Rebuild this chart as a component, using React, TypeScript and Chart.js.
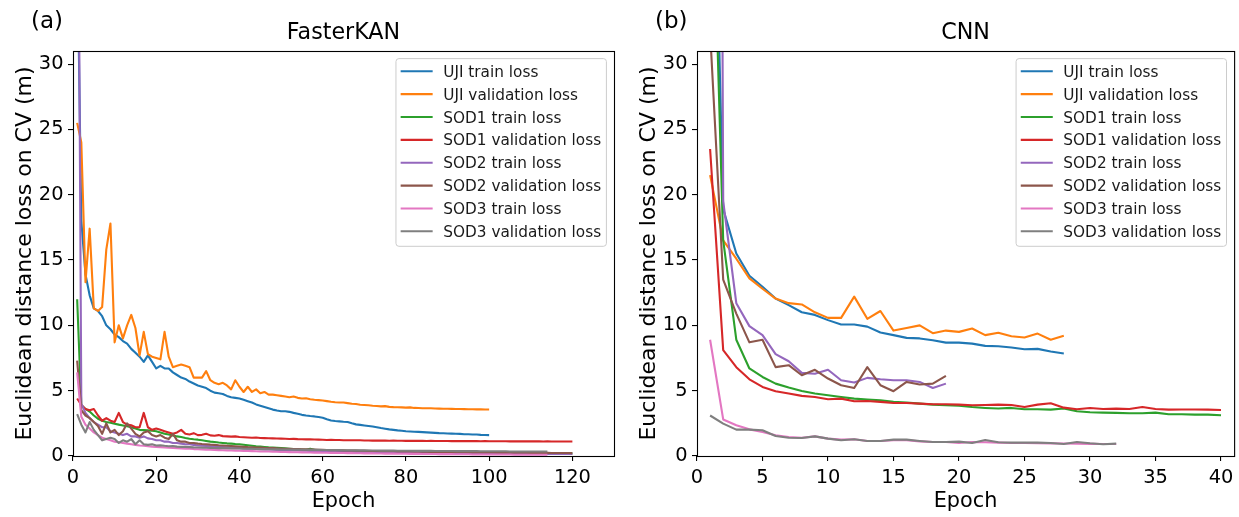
import React, { useEffect, useRef } from "react";
import { Chart, registerables } from "chart.js";

Chart.register(...registerables);

const FONT = "'DejaVu Sans', 'Liberation Sans', sans-serif";

const seriesNames = [
  "UJI train loss",
  "UJI validation loss",
  "SOD1 train loss",
  "SOD1 validation loss",
  "SOD2 train loss",
  "SOD2 validation loss",
  "SOD3 train loss",
  "SOD3 validation loss",
];
const seriesColors = [
  "#1f77b4",
  "#ff7f0e",
  "#2ca02c",
  "#d62728",
  "#9467bd",
  "#8c564b",
  "#e377c2",
  "#7f7f7f",
];

const yTicks = [0, 5, 10, 15, 20, 25, 30];
const kanXTicks = [0, 20, 40, 60, 80, 100, 120];
const cnnXTicks = [0, 5, 10, 15, 20, 25, 30, 35, 40];

// ---------- FasterKAN (epoch = index + 1) ----------
const kanUjiTrain = [
  40, 18, 13.9, 12.3, 11.3, 11.1, 10.7, 10.0, 9.7, 9.3,
  9.1, 8.8, 8.6, 8.2, 7.9, 7.6, 7.2, 7.7, 7.2, 6.7,
  6.9, 6.7, 6.7, 6.4, 6.2, 6.0, 5.9, 5.7, 5.55, 5.4,
  5.3, 5.2, 5.0, 4.85, 4.8, 4.75, 4.6, 4.5, 4.45, 4.4,
  4.3, 4.2, 4.1, 3.95, 3.85, 3.75, 3.65, 3.55, 3.48, 3.42,
  3.42, 3.38, 3.3, 3.23, 3.15, 3.1, 3.06, 3.03, 2.98, 2.93,
  2.82, 2.72, 2.68, 2.65, 2.62, 2.6, 2.5, 2.42, 2.38, 2.34,
  2.3, 2.26, 2.2, 2.14, 2.09, 2.04, 2.0, 1.96, 1.93, 1.9,
  1.88, 1.86, 1.85, 1.83, 1.81, 1.79, 1.77, 1.75, 1.74, 1.72,
  1.71, 1.7, 1.69, 1.67, 1.66, 1.65, 1.64, 1.62, 1.61, 1.6,
];
const kanUjiVal = [
  25.5, 24.0, 13.3, 17.4, 11.3, 11.1, 11.4, 15.8, 17.8, 8.7,
  10.0, 9.0, 10.0, 10.8, 9.8, 7.7, 9.5, 7.8, 7.6, 7.5,
  7.4, 9.5, 7.6, 6.8, 6.9, 7.0, 6.9, 6.8, 6.0, 6.0,
  6.0, 6.5, 5.8, 5.6, 5.5, 5.6, 5.4, 5.1, 5.8, 5.3,
  4.9, 5.3, 4.9, 5.1, 4.8, 4.9, 4.7, 4.7, 4.65, 4.6,
  4.55, 4.5, 4.55, 4.45, 4.4, 4.42, 4.35, 4.3, 4.28, 4.25,
  4.2, 4.15, 4.12, 4.1, 4.1, 4.05, 4.0, 3.98, 3.92, 3.9,
  3.88, 3.85, 3.83, 3.8, 3.82, 3.76, 3.74, 3.73, 3.72, 3.7,
  3.72, 3.68, 3.67, 3.66, 3.65, 3.65, 3.64, 3.63, 3.62, 3.62,
  3.61, 3.6, 3.6, 3.59, 3.58, 3.58, 3.57, 3.57, 3.56, 3.56,
];
const kanSod1Train = [
  12.0, 3.9, 3.6, 3.4, 3.1, 2.85, 2.7, 2.6, 2.55, 2.47,
  2.4, 2.34, 2.27, 2.2, 2.1, 2.0, 1.98, 1.96, 1.93, 1.9,
  1.8, 1.7, 1.64, 1.58, 1.5, 1.45, 1.38, 1.32, 1.28, 1.25,
  1.2, 1.15, 1.1, 1.07, 1.03, 1.0, 0.97, 0.95, 0.92, 0.9,
  0.86, 0.82, 0.78, 0.74, 0.72, 0.69, 0.66, 0.64, 0.62, 0.6,
  0.58, 0.56, 0.54, 0.52, 0.5, 0.48, 0.55, 0.47, 0.45, 0.43,
  0.42, 0.4, 0.39, 0.38, 0.37, 0.36, 0.35, 0.34, 0.33, 0.33,
  0.32, 0.32, 0.31, 0.31, 0.3, 0.3, 0.3, 0.29, 0.29, 0.29,
  0.28, 0.28, 0.28, 0.27, 0.27, 0.27, 0.27, 0.26, 0.26, 0.26,
  0.26, 0.25, 0.25, 0.25, 0.25, 0.25, 0.24, 0.24, 0.24, 0.24,
  0.24, 0.23, 0.23, 0.23, 0.23, 0.23, 0.22, 0.22, 0.22, 0.22,
  0.22, 0.22, 0.21, 0.21, 0.21, 0.21, 0.21, 0.21, 0.2, 0.2,
];
const kanSod1Val = [
  4.4, 3.9, 3.6, 3.5, 3.6, 3.1, 2.7, 2.9, 2.7, 2.6,
  3.3, 2.6, 2.4, 2.35, 2.2, 2.2, 3.3, 2.2, 2.0, 2.1,
  2.0, 1.9, 1.8, 1.7, 1.8, 2.0, 1.7, 1.65, 1.75, 1.6,
  1.62, 1.7, 1.58, 1.55, 1.6, 1.52, 1.5, 1.48, 1.5, 1.45,
  1.44, 1.42, 1.4, 1.42, 1.38, 1.37, 1.36, 1.35, 1.34, 1.33,
  1.32, 1.3, 1.31, 1.29, 1.28, 1.27, 1.27, 1.26, 1.25, 1.24,
  1.23, 1.24, 1.22, 1.22, 1.21, 1.21, 1.2, 1.2, 1.2, 1.19,
  1.19, 1.18, 1.19, 1.18, 1.18, 1.17, 1.18, 1.17, 1.17, 1.16,
  1.17, 1.16, 1.16, 1.16, 1.15, 1.16, 1.15, 1.15, 1.15, 1.15,
  1.14, 1.15, 1.14, 1.14, 1.14, 1.14, 1.14, 1.13, 1.14, 1.13,
  1.13, 1.13, 1.13, 1.13, 1.12, 1.13, 1.12, 1.12, 1.12, 1.12,
  1.12, 1.12, 1.11, 1.12, 1.11, 1.11, 1.11, 1.11, 1.11, 1.11,
];
const kanSod2Train = [
  60, 4.0, 3.3, 2.9, 2.6, 2.4, 2.2, 2.2, 1.9, 1.8,
  1.7, 1.6, 1.7, 1.5, 1.5, 1.4, 1.5, 1.35, 1.3, 1.2,
  1.2, 1.1, 1.1, 1.0, 1.0, 0.95, 0.9, 0.9, 0.85, 0.8,
  0.78, 0.76, 0.74, 0.72, 0.7, 0.68, 0.66, 0.64, 0.62, 0.6,
  0.58, 0.56, 0.55, 0.54, 0.52, 0.51, 0.5, 0.48, 0.47, 0.46,
  0.45, 0.44, 0.43, 0.42, 0.41, 0.4, 0.39, 0.38, 0.37, 0.36,
  0.35, 0.35, 0.34, 0.33, 0.32, 0.32, 0.31, 0.3, 0.3, 0.29,
  0.29, 0.28, 0.28, 0.27, 0.27, 0.26, 0.26, 0.25, 0.25, 0.25,
  0.24, 0.24, 0.24, 0.23, 0.23, 0.23, 0.22, 0.22, 0.22, 0.21,
  0.21, 0.21, 0.21, 0.2, 0.2, 0.2, 0.2, 0.19, 0.19, 0.19,
  0.19, 0.18, 0.18, 0.18, 0.18, 0.18, 0.17, 0.17, 0.17, 0.17,
  0.17, 0.16, 0.16, 0.16, 0.16, 0.16, 0.15, 0.15, 0.15, 0.15,
];
const kanSod2Val = [
  7.3, 3.5, 3.1, 2.9, 2.6, 2.3, 1.7, 2.5, 1.8, 2.0,
  1.6, 1.9, 2.5, 2.1, 1.7, 1.5, 1.8, 1.9, 1.6, 1.5,
  1.6, 1.4, 1.3, 1.7, 1.2, 1.1, 1.1, 1.0, 1.0, 0.95,
  0.92, 0.9, 0.87, 0.85, 0.82, 0.8, 0.78, 0.76, 0.74, 0.72,
  0.7, 0.68, 0.67, 0.65, 0.64, 0.62, 0.61, 0.6, 0.58, 0.57,
  0.56, 0.55, 0.54, 0.53, 0.52, 0.51, 0.5, 0.49, 0.48, 0.47,
  0.46, 0.45, 0.45, 0.44, 0.43, 0.42, 0.42, 0.41, 0.4, 0.4,
  0.39, 0.38, 0.38, 0.37, 0.37, 0.36, 0.36, 0.35, 0.35, 0.34,
  0.34, 0.33, 0.33, 0.32, 0.32, 0.31, 0.31, 0.31, 0.3, 0.3,
  0.3, 0.29, 0.29, 0.29, 0.28, 0.28, 0.28, 0.27, 0.27, 0.27,
  0.27, 0.26, 0.26, 0.26, 0.26, 0.25, 0.25, 0.25, 0.25, 0.24,
  0.24, 0.24, 0.24, 0.24, 0.23, 0.23, 0.23, 0.23, 0.23, 0.22,
];
const kanSod3Train = [
  6.4, 3.0, 2.4, 2.1, 1.8, 1.6, 1.4, 1.3, 1.2, 1.1,
  1.05, 1.0, 0.95, 0.9, 0.85, 0.8, 0.78, 0.75, 0.72, 0.7,
  0.68, 0.66, 0.64, 0.62, 0.6, 0.58, 0.56, 0.55, 0.53, 0.52,
  0.5, 0.49, 0.48, 0.46, 0.45, 0.44, 0.43, 0.42, 0.41, 0.4,
  0.39, 0.38, 0.37, 0.36, 0.35, 0.34, 0.34, 0.33, 0.32, 0.31,
  0.31, 0.3, 0.29, 0.29, 0.28, 0.27, 0.27, 0.26, 0.26, 0.25,
  0.25, 0.24, 0.24, 0.23, 0.23, 0.22, 0.22, 0.21, 0.21, 0.2,
  0.2, 0.2, 0.19, 0.19, 0.18, 0.18, 0.18, 0.17, 0.17, 0.17,
  0.16, 0.16, 0.16, 0.15, 0.15, 0.15, 0.15, 0.14, 0.14, 0.14,
  0.14, 0.13, 0.13, 0.13, 0.13, 0.12, 0.12, 0.12, 0.12, 0.12,
  0.11, 0.11, 0.11, 0.11, 0.11, 0.1, 0.1, 0.1, 0.1, 0.1,
  0.1, 0.1, 0.09, 0.09,
];
const kanSod3Val = [
  3.2, 2.4, 1.8, 2.6, 2.0, 1.6, 1.2, 1.3, 1.4, 1.3,
  1.0, 1.2, 1.1, 1.3, 0.9, 1.2, 0.9, 0.85, 0.9, 0.8,
  0.82, 0.78, 0.75, 0.76, 0.72, 0.7, 0.7, 0.68, 0.66, 0.65,
  0.64, 0.63, 0.62, 0.61, 0.6, 0.6, 0.59, 0.58, 0.57, 0.57,
  0.56, 0.55, 0.55, 0.54, 0.53, 0.53, 0.52, 0.52, 0.51, 0.5,
  0.5, 0.5, 0.49, 0.49, 0.48, 0.48, 0.47, 0.47, 0.47, 0.46,
  0.46, 0.45, 0.45, 0.45, 0.44, 0.44, 0.44, 0.43, 0.43, 0.43,
  0.42, 0.42, 0.42, 0.41, 0.41, 0.41, 0.41, 0.4, 0.4, 0.4,
  0.4, 0.39, 0.39, 0.39, 0.39, 0.39, 0.38, 0.38, 0.38, 0.38,
  0.38, 0.37, 0.37, 0.37, 0.37, 0.37, 0.37, 0.36, 0.36, 0.36,
  0.36, 0.36, 0.36, 0.36, 0.35, 0.35, 0.35, 0.35, 0.35, 0.35,
  0.35, 0.35, 0.35, 0.35,
];

// ---------- CNN (epoch = index + 1) ----------
const cnnUjiTrain = [
  60, 18.9, 15.5, 13.8, 12.95, 12.05, 11.55, 11.0, 10.8, 10.4,
  10.06, 10.06, 9.9, 9.45, 9.25, 9.04, 9.0, 8.86, 8.68, 8.68,
  8.6, 8.43, 8.4, 8.3, 8.17, 8.2, 8.0, 7.84,
];
const cnnUjiVal = [
  21.5, 16.5, 15.1, 13.6, 12.8, 12.05, 11.7, 11.6, 11.0, 10.57,
  10.57, 12.2, 10.5, 11.1, 9.6, 9.8, 10.0, 9.4, 9.6, 9.5,
  9.76, 9.25, 9.43, 9.17, 9.07, 9.37, 8.9, 9.2,
];
const cnnSod1Train = [
  51, 16.5, 8.9, 6.7, 6.05, 5.54, 5.24, 4.98, 4.78, 4.65,
  4.52, 4.39, 4.32, 4.27, 4.14, 4.09, 4.01, 3.93, 3.88, 3.85,
  3.75, 3.68, 3.63, 3.68, 3.58, 3.58, 3.55, 3.63, 3.42, 3.35,
  3.32, 3.3, 3.27, 3.27, 3.32, 3.19, 3.19, 3.17, 3.17, 3.12,
];
const cnnSod1Val = [
  23.5, 8.1, 6.8, 5.87, 5.29, 4.96, 4.78, 4.6, 4.52, 4.34,
  4.39, 4.19, 4.21, 4.14, 4.06, 4.06, 4.01, 3.96, 3.96, 3.93,
  3.88, 3.9, 3.93, 3.9, 3.75, 3.93, 4.04, 3.7, 3.58, 3.68,
  3.6, 3.63, 3.6, 3.75, 3.6, 3.55, 3.56, 3.56, 3.55, 3.52,
];
const cnnSod2Train = [
  250, 19.5, 11.7, 9.94, 9.25, 7.8, 7.25, 6.36, 6.3, 6.6,
  5.8, 5.62, 5.98, 5.87, 5.8, 5.8, 5.67, 5.2, 5.54,
];
const cnnSod2Val = [
  32.5, 13.5, 10.9, 8.7, 8.9, 6.8, 6.95, 6.18, 6.6, 5.93,
  5.42, 5.2, 6.8, 5.42, 4.96, 5.67, 5.47, 5.54, 6.13,
];
const cnnSod3Train = [
  8.9, 2.8, 2.35, 2.04, 1.84, 1.58, 1.46, 1.4, 1.5, 1.33,
  1.25, 1.28, 1.15, 1.15, 1.2, 1.2, 1.12, 1.07, 1.07, 1.0,
  1.07, 1.05, 1.02, 1.0, 1.0, 0.98, 0.97, 0.96, 0.95, 0.93,
  0.92, 0.92,
];
const cnnSod3Val = [
  3.1, 2.48, 2.02, 2.02, 1.97, 1.53, 1.4, 1.38, 1.5, 1.33,
  1.2, 1.28, 1.15, 1.15, 1.25, 1.25, 1.15, 1.07, 1.07, 1.1,
  1.0, 1.22, 1.05, 1.02, 1.02, 1.02, 1.0, 0.92, 1.07, 0.97,
  0.9, 0.95,
];

const kanSeries = [
  kanUjiTrain, kanUjiVal, kanSod1Train, kanSod1Val,
  kanSod2Train, kanSod2Val, kanSod3Train, kanSod3Val,
];
const cnnSeries = [
  cnnUjiTrain, cnnUjiVal, cnnSod1Train, cnnSod1Val,
  cnnSod2Train, cnnSod2Val, cnnSod3Train, cnnSod3Val,
];

const Y_LABEL = "Euclidean distance loss on CV (m)";
const X_LABEL = "Epoch";

const decorPlugin = {
  id: "decor",
  afterDraw(chart: any, _args: any, o: any) {
    const { ctx, chartArea: ca } = chart;
    ctx.save();
    // frame (all four spines)
    ctx.strokeStyle = "#000";
    ctx.lineWidth = 1.1;
    ctx.strokeRect(ca.left + 0.5, ca.top + 0.5, ca.right - ca.left, ca.bottom - ca.top);

    // legend
    const fs = 15.3;
    ctx.font = `${fs}px ${FONT}`;
    let maxW = 0;
    for (const n of seriesNames) maxW = Math.max(maxW, ctx.measureText(n).width);
    const bw = 47.3 + maxW + 5.3;
    const bh = 187.7;
    const bx = ca.right - 7.6 - bw;
    const by = ca.top + 7.6;
    const r = 3;
    ctx.beginPath();
    ctx.moveTo(bx + r, by);
    ctx.lineTo(bx + bw - r, by);
    ctx.arcTo(bx + bw, by, bx + bw, by + r, r);
    ctx.lineTo(bx + bw, by + bh - r);
    ctx.arcTo(bx + bw, by + bh, bx + bw - r, by + bh, r);
    ctx.lineTo(bx + r, by + bh);
    ctx.arcTo(bx, by + bh, bx, by + bh - r, r);
    ctx.lineTo(bx, by + r);
    ctx.arcTo(bx, by, bx + r, by, r);
    ctx.closePath();
    ctx.fillStyle = "rgba(255,255,255,0.8)";
    ctx.fill();
    ctx.strokeStyle = "#cccccc";
    ctx.lineWidth = 1;
    ctx.stroke();
    ctx.textAlign = "left";
    ctx.textBaseline = "alphabetic";
    seriesNames.forEach((n, i) => {
      const cy = by + 12.7 + 22.86 * i;
      ctx.strokeStyle = seriesColors[i];
      ctx.lineWidth = 2.1;
      ctx.beginPath();
      ctx.moveTo(bx + 4.7, cy);
      ctx.lineTo(bx + 36.7, cy);
      ctx.stroke();
      ctx.fillStyle = "#1a1a1a";
      ctx.fillText(n, bx + 47.3, cy + 5.6);
    });

    // title
    ctx.fillStyle = "#000";
    ctx.font = `22.2px ${FONT}`;
    ctx.textAlign = "center";
    ctx.fillText(o.title, (ca.left + ca.right) / 2, 39);

    // panel label
    ctx.font = `23px ${FONT}`;
    ctx.textAlign = "left";
    ctx.fillText(o.panel, ca.left - 42, 28);

    // x label
    ctx.font = `20.8px ${FONT}`;
    ctx.textAlign = "center";
    ctx.fillText(X_LABEL, (ca.left + ca.right) / 2, 507);

    // y label
    ctx.font = `22px ${FONT}`;
    ctx.translate(ca.left - 42, (ca.top + ca.bottom) / 2);
    ctx.rotate(-Math.PI / 2);
    ctx.textAlign = "center";
    ctx.fillText(Y_LABEL, 0, 0);
    ctx.restore();
  },
};

type PanelProps = {
  left: number;
  width: number;
  yWidth: number;
  padRight: number;
  xMax: number;
  xTicks: number[];
  series: number[][];
  title: string;
  panel: string;
};

function Panel(p: PanelProps) {
  const ref = useRef<HTMLCanvasElement | null>(null);
  useEffect(() => {
    if (!ref.current) return;
    const n = p.series.length;
    const chart = new Chart(ref.current, {
      type: "line",
      data: {
        datasets: p.series.map((vals, i) => ({
          label: seriesNames[i],
          data: vals.map((v, k) => ({ x: k + 1, y: v })),
          borderColor: seriesColors[i],
          backgroundColor: seriesColors[i],
          borderWidth: 2.1,
          pointRadius: 0,
          pointHoverRadius: 0,
          tension: 0,
          fill: false,
          borderJoinStyle: "round" as const,
          order: n - 1 - i,
        })),
      },
      options: {
        animation: false,
        responsive: false,
        events: [],
        layout: { padding: { top: 51, right: p.padRight, bottom: 0, left: 0 } },
        plugins: {
          legend: { display: false },
          tooltip: { enabled: false },
          title: { display: false },
          decor: { title: p.title, panel: p.panel },
        } as any,
        scales: {
          x: {
            type: "linear",
            min: 0,
            max: p.xMax,
            afterBuildTicks: (s: any) => {
              s.ticks = p.xTicks.map((v) => ({ value: v }));
            },
            afterFit: (s: any) => {
              s.height = 61;
            },
            ticks: {
              font: { family: FONT, size: 19.4 },
              color: "#000",
              padding: 5.6,
              maxRotation: 0,
              autoSkip: false,
            },
            grid: {
              drawOnChartArea: false,
              drawTicks: true,
              tickLength: 5,
              color: "#000",
              lineWidth: 1.1,
            },
            border: { display: false },
          },
          y: {
            type: "linear",
            min: 0,
            max: 31,
            afterBuildTicks: (s: any) => {
              s.ticks = yTicks.map((v) => ({ value: v }));
            },
            afterFit: (s: any) => {
              s.width = p.yWidth;
            },
            ticks: {
              font: { family: FONT, size: 19.4 },
              color: "#000",
              padding: 4.5,
              autoSkip: false,
            },
            grid: {
              drawOnChartArea: false,
              drawTicks: true,
              tickLength: 5,
              color: "#000",
              lineWidth: 1.1,
            },
            border: { display: false },
          },
        },
      },
      plugins: [decorPlugin],
    } as any);
    return () => chart.destroy();
  }, []);
  return (
    <canvas
      ref={ref}
      width={p.width}
      height={517}
      style={{ position: "absolute", left: p.left, top: 0, width: p.width, height: 517, display: "block" }}
    />
  );
}

export default function App() {
  return (
    <div style={{ position: "absolute", left: 0, top: 0, width: 1239, height: 517, background: "#fff", overflow: "hidden" }}>
      <Panel
        left={0}
        width={630}
        yWidth={73}
        padRight={16}
        xMax={130}
        xTicks={kanXTicks}
        series={kanSeries}
        title="FasterKAN"
        panel="(a)"
      />
      <Panel
        left={630}
        width={609}
        yWidth={67}
        padRight={2}
        xMax={41}
        xTicks={cnnXTicks}
        series={cnnSeries}
        title="CNN"
        panel="(b)"
      />
    </div>
  );
}
